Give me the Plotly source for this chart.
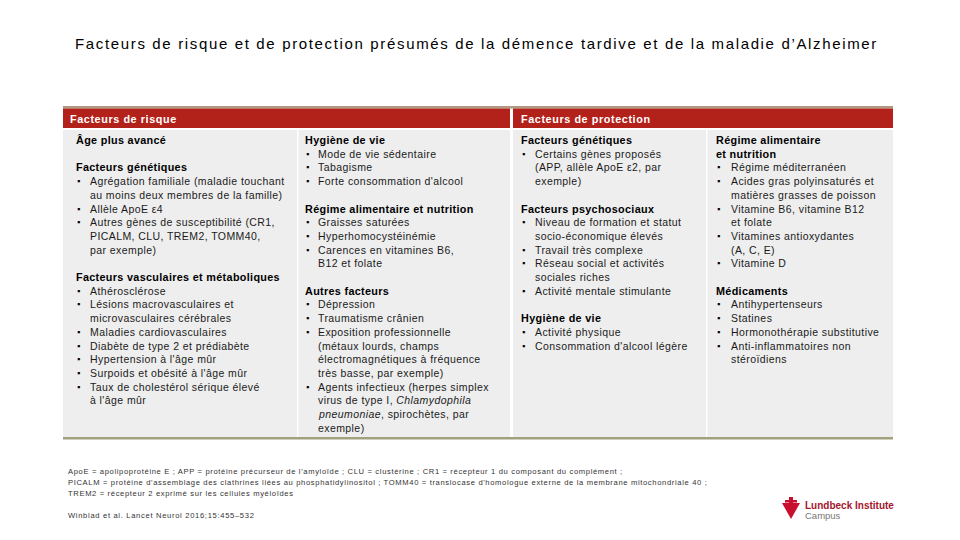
import plotly.graph_objects as go

title = "Facteurs de risque et de protection présumés de la démence tardive et de la maladie d’Alzheimer"
header_risk = "Facteurs de risque"
header_protection = "Facteurs de protection"

# each column: list of (heading, [bullet items]); "<br>" marks a wrapped line
risk_col1 = [
    ("Âge plus avancé", []),
    ("Facteurs génétiques", [
        "Agrégation familiale (maladie touchant<br>au moins deux membres de la famille)",
        "Allèle ApoE ε4",
        "Autres gènes de susceptibilité (CR1,<br>PICALM, CLU, TREM2, TOMM40,<br>par exemple)",
    ]),
    ("Facteurs vasculaires et métaboliques", [
        "Athérosclérose",
        "Lésions macrovasculaires et<br>microvasculaires cérébrales",
        "Maladies cardiovasculaires",
        "Diabète de type 2 et prédiabète",
        "Hypertension à l'âge mûr",
        "Surpoids et obésité à l'âge mûr",
        "Taux de cholestérol sérique élevé<br>à l'âge mûr",
    ]),
]
risk_col2 = [
    ("Hygiène de vie", [
        "Mode de vie sédentaire",
        "Tabagisme",
        "Forte consommation d'alcool",
    ]),
    ("Régime alimentaire et nutrition", [
        "Graisses saturées",
        "Hyperhomocystéinémie",
        "Carences en vitamines B6,<br>B12 et folate",
    ]),
    ("Autres facteurs", [
        "Dépression",
        "Traumatisme crânien",
        "Exposition professionnelle<br>(métaux lourds, champs<br>électromagnétiques à fréquence<br>très basse, par exemple)",
        "Agents infectieux (herpes simplex<br>virus de type I, <i>Chlamydophila</i><br><i>pneumoniae</i>, spirochètes, par<br>exemple)",
    ]),
]
prot_col1 = [
    ("Facteurs génétiques", [
        "Certains gènes proposés<br>(APP, allèle ApoE ε2, par<br>exemple)",
    ]),
    ("Facteurs psychosociaux", [
        "Niveau de formation et statut<br>socio-économique élevés",
        "Travail très complexe",
        "Réseau social et activités<br>sociales riches",
        "Activité mentale stimulante",
    ]),
    ("Hygiène de vie", [
        "Activité physique",
        "Consommation d'alcool légère",
    ]),
]
prot_col2 = [
    ("Régime alimentaire<br>et nutrition", [
        "Régime méditerranéen",
        "Acides gras polyinsaturés et<br>matières grasses de poisson",
        "Vitamine B6, vitamine B12<br>et folate",
        "Vitamines antioxydantes<br>(A, C, E)",
        "Vitamine D",
    ]),
    ("Médicaments", [
        "Antihypertenseurs",
        "Statines",
        "Hormonothérapie substitutive",
        "Anti-inflammatoires non<br>stéroïdiens",
    ]),
]

footnotes = [
    "ApoE = apolipoprotéine E ; APP = protéine précurseur de l'amyloïde ; CLU = clustérine ; CR1 = récepteur 1 du composant du complément ;",
    "PICALM = protéine d'assemblage des clathrines liées au phosphatidylinositol ; TOMM40 = translocase d'homologue externe de la membrane mitochondriale 40 ;",
    "TREM2 = récepteur 2 exprimé sur les cellules myéloïdes",
]
reference = "Winblad et al. Lancet Neurol 2016;15:455–532"

FONT = "Arial, Liberation Sans, sans-serif"
RED = "#b3221a"
GREY = "#eeeeee"
LINE = 13.7
TOP = 140

fig = go.Figure()
fig.add_trace(go.Scatter(x=[0, 960], y=[0, 540], mode="markers",
                         marker=dict(opacity=0), hoverinfo="skip", showlegend=False))

shapes = []
# table frame
shapes.append(dict(type="rect", x0=63, x1=893, y0=106, y1=108.5, fillcolor="#b09a82", line_width=0))
shapes.append(dict(type="rect", x0=63, x1=510, y0=108.5, y1=128, fillcolor=RED, line_width=0))
shapes.append(dict(type="rect", x0=513, x1=893, y0=108.5, y1=128, fillcolor=RED, line_width=0))
for x0, x1 in [(63, 297), (298.5, 510), (513, 706), (707.5, 893)]:
    shapes.append(dict(type="rect", x0=x0, x1=x1, y0=130, y1=437, fillcolor=GREY, line_width=0))
shapes.append(dict(type="rect", x0=63, x1=893, y0=437, y1=439.5, fillcolor="#a3a080", line_width=0))

# logo mark
shapes.append(dict(type="path", path="M 782 503 L 800 503 L 791 519 Z", fillcolor="#c8102e", line_width=0))
shapes.append(dict(type="rect", x0=789, x1=793, y0=497, y1=504, fillcolor="#c8102e", line_width=0))
shapes.append(dict(type="rect", x0=785, x1=797, y0=500, y1=502.5, fillcolor="#c8102e", line_width=0))

ann = []


def txt(x, y, s, size=10.5, color="#1a1a1a", anchor="left", spacing=0):
    if spacing:
        s = '<span style="letter-spacing:%.2fpx">%s</span>' % (spacing, s)
    ann.append(dict(x=x, y=y, xref="x", yref="y", text=s, showarrow=False,
                    xanchor=anchor, yanchor="middle",
                    font=dict(family=FONT, size=size, color=color)))


def draw_column(sections, x_head, x_bullet, x_text):
    row = 0
    for heading, items in sections:
        for part in heading.split("<br>"):
            txt(x_head, TOP + row * LINE, "<b>" + part + "</b>", size=10.8, color="#000000", spacing=0.33)
            row += 1
        for item in items:
            for k, part in enumerate(item.split("<br>")):
                if k == 0:
                    txt(x_bullet, TOP + row * LINE, "▪", size=9, color="#000000")
                txt(x_text, TOP + row * LINE, part, spacing=0.42)
                row += 1
        row += 1


draw_column(risk_col1, 74, 75, 88)
draw_column(risk_col2, 303, 304, 316)
draw_column(prot_col1, 519, 520, 533)
draw_column(prot_col2, 714, 715, 729)

txt(476, 43, title, size=15, color="#000000", anchor="center", spacing=1.65)
txt(68, 118.5, "<b>" + header_risk + "</b>", size=10.8, color="#ffffff", spacing=0.6)
txt(519, 118.5, "<b>" + header_protection + "</b>", size=10.8, color="#ffffff", spacing=0.6)

for i, line in enumerate(footnotes):
    txt(66, 471 + i * 11, line, size=7.6, color="#333333", spacing=0.65)
txt(66, 515, reference, size=7.6, color="#333333", spacing=0.68)

txt(803, 505, "<b>Lundbeck Institute</b>", size=10, color="#a3162c")
txt(803, 515.5, "Campus", size=9.5, color="#777777")

fig.update_layout(
    width=960, height=540,
    margin=dict(l=0, r=0, t=0, b=0),
    paper_bgcolor="white", plot_bgcolor="white",
    xaxis=dict(range=[0, 960], visible=False, fixedrange=True),
    yaxis=dict(range=[540, 0], visible=False, fixedrange=True),
    shapes=shapes, annotations=ann, showlegend=False,
)

fig.write_html("out.html", config={"displayModeBar": False},
               post_script="document.body.style.margin='0';")
